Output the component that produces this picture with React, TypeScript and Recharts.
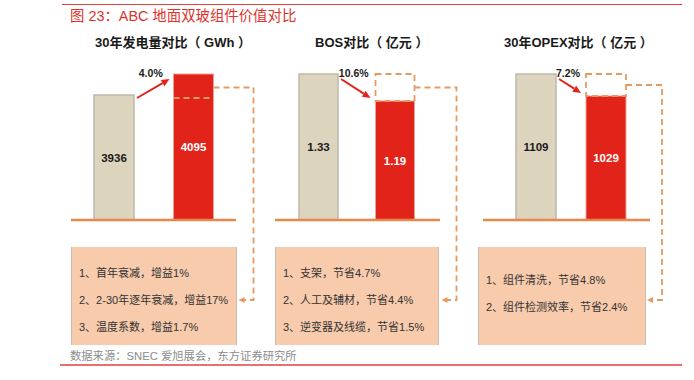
import React from 'react';
import { BarChart, Bar, XAxis, YAxis, LabelList, Cell } from 'recharts';

// ---- data ----
const schemes = ['常规组件', 'ABC组件'];
const energyValues = [3936, 4095];
const bosValues = [1.33, 1.19];
const opexValues = [1109, 1029];
const changeLabels = ['4.0%', '10.6%', '7.2%'];
const panelTitles = ['30年发电量对比（ GWh ）', 'BOS对比（ 亿元 ）', '30年OPEX对比（ 亿元 ）'];
const energyNotes = ['1、首年衰减，增益1%', '2、2-30年逐年衰减，增益17%', '3、温度系数，增益1.7%'];
const bosNotes = ['1、支架，节省4.7%', '2、人工及辅材，节省4.4%', '3、逆变器及线缆，节省1.5%'];
const opexNotes = ['1、组件清洗，节省4.8%', '2、组件检测效率，节省2.4%'];
const yDomains: [number, number][] = [[2990, 4095], [0.573, 1.33], [578, 1109]];

const titleText = '图 23：ABC 地面双玻组件价值对比';
const sourceText = '数据来源：SNEC 爱旭展会，东方证券研究所';

// ---- style / layout ----
const W = 694;
const H = 380;
const FONT = '"Liberation Sans", Arial, "Noto Sans CJK SC", sans-serif';
const RED = '#E2231A';
const BEIGE = '#DDD4BD';
const AXIS_COLOR = '#E5894D';
const DASH = '#E69A62';
const BOX_FILL = '#F8CBAD';
const PLOT_TOP = 74;
const PLOT_BOTTOM = 220;
const ARROW_Y = 300;

const panels = [
  { values: energyValues, notes: energyNotes, plotL: 71, plotR: 236, padL: 3, padR: 3, barSize: 40, boxL: 71, boxR: 237, boxPadTop: 12.5, titleL: 95, conn: 40 },
  { values: bosValues, notes: bosNotes, plotL: 275, plotR: 440, padL: 5, padR: 7, barSize: 39, boxL: 275, boxR: 439, boxPadTop: 12.5, titleL: 315, conn: 42 },
  { values: opexValues, notes: opexNotes, plotL: 483, plotR: 650, padL: 18, padR: 9, barSize: 40, boxL: 478, boxR: 646, boxPadTop: 19.5, titleL: 504, conn: 36 },
];

const geo: Record<number, { x: number; y: number; w: number; h: number }> = {};

function makeShape(pi: number) {
  return (props: any) => {
    const { x, y, width, height, index } = props;
    if (index === 0) {
      geo[pi] = { x, y, w: width, h: height };
      return (
        <rect x={x} y={y} width={width} height={height} fill={BEIGE} stroke="#BDB8AF" strokeWidth={1.5} />
      );
    }
    const b1 = geo[pi] || { x: x - 80, y, w: width, h: height };
    const increase = y < b1.y;
    const topY = Math.min(y, b1.y);
    const lowY = Math.max(y, b1.y);
    const right = x + width;
    const cx = right + panels[pi].conn;
    const midY = (topY + lowY) / 2;
    const boxEdge = cx - 16;
    // red arrow
    const sx = b1.x + b1.w + 3;
    const sy = b1.y + (increase ? 3 : 5);
    const ex = x - (increase ? 4 : 5);
    const ey = increase ? y + 5 : y - 3;
    const ang = Math.atan2(ey - sy, ex - sx);
    const len = 8;
    const hw = 3.6;
    const bx = ex - len * Math.cos(ang);
    const by = ey - len * Math.sin(ang);
    const p1 = `${ex},${ey}`;
    const p2 = `${bx + hw * Math.sin(ang)},${by - hw * Math.cos(ang)}`;
    const p3 = `${bx - hw * Math.sin(ang)},${by + hw * Math.cos(ang)}`;
    const labelX = (b1.x + b1.w + x) / 2 - 3;
    return (
      <g>
        <rect x={x} y={y} width={width} height={height} fill={RED} stroke="#E9A39A" strokeWidth={1} />
        {increase ? (
          <line x1={x} x2={right} y1={b1.y + 3} y2={b1.y + 3} stroke={DASH} strokeWidth={1.8} strokeDasharray="6 4" />
        ) : (
          <rect x={x} y={b1.y} width={width} height={y - b1.y} fill="none" stroke={DASH} strokeWidth={1.8} strokeDasharray="6 4" />
        )}
        <polyline
          points={`${right},${midY + (increase ? 3 : 0)} ${cx},${midY + (increase ? 3 : 0)} ${cx},${ARROW_Y} ${boxEdge + 6},${ARROW_Y}`}
          fill="none"
          stroke={DASH}
          strokeWidth={1.8}
          strokeDasharray="6 4"
        />
        <polygon points={`${boxEdge + 1},${ARROW_Y} ${boxEdge + 7},${ARROW_Y - 3} ${boxEdge + 7},${ARROW_Y + 3}`} fill={DASH} />
        <line x1={sx} y1={sy} x2={bx} y2={by} stroke={RED} strokeWidth={2} />
        <polygon points={`${p1} ${p2} ${p3}`} fill={RED} />
        <text x={labelX} y={topY + 3} textAnchor="middle" fontSize={10.5} fontWeight="bold" fill="#1a1a1a" fontFamily={FONT}>
          {changeLabels[pi]}
        </text>
      </g>
    );
  };
}

const renderValue = (props: any) => {
  const { x, y, width, height, value, index } = props;
  return (
    <text
      x={x + width / 2}
      y={y + height / 2}
      textAnchor="middle"
      dominantBaseline="central"
      fontSize={11.5}
      fontWeight="bold"
      fontFamily={FONT}
      fill={index === 0 ? '#1a1a1a' : '#ffffff'}
    >
      {value}
    </text>
  );
};

function Panel({ pi }: { pi: number }) {
  const p = panels[pi];
  const data = schemes.map((name, i) => ({ name, value: p.values[i] }));
  return (
    <div style={{ position: 'absolute', left: 0, top: 0, width: W, height: H }}>
      <BarChart
        width={W}
        height={H}
        data={data}
        margin={{ top: PLOT_TOP, bottom: H - PLOT_BOTTOM - 1, left: p.plotL, right: W - p.plotR }}
      >
        <XAxis
          dataKey="name"
          tick={false}
          tickLine={false}
          height={1}
          padding={{ left: p.padL, right: p.padR }}
          axisLine={{ stroke: AXIS_COLOR, strokeWidth: 2.5 }}
        />
        <YAxis hide domain={yDomains[pi]} />
        <Bar dataKey="value" barSize={p.barSize} isAnimationActive={false} shape={makeShape(pi)}>
          {data.map((d, i) => (
            <Cell key={i} fill={i === 0 ? BEIGE : RED} />
          ))}
          <LabelList dataKey="value" content={renderValue} />
        </Bar>
      </BarChart>
    </div>
  );
}

export default function App() {
  return (
    <div style={{ position: 'absolute', left: 0, top: 0, width: W, height: H, background: '#fff', fontFamily: FONT, overflow: 'hidden' }}>
      <div style={{ position: 'absolute', left: 62, top: 4, width: 620, height: 1, background: '#E8413B' }} />
      <div style={{ position: 'absolute', left: 70, top: 7, fontSize: 14.4, lineHeight: '18px', color: '#E0312B', whiteSpace: 'nowrap' }}>
        {titleText}
      </div>
      {panels.map((p, i) => (
        <div
          key={'t' + i}
          style={{ position: 'absolute', left: p.titleL, top: 35, fontSize: 13, lineHeight: '16px', fontWeight: 'bold', color: '#1a1a1a', whiteSpace: 'pre' }}
        >
          {panelTitles[i]}
        </div>
      ))}
      {panels.map((p, i) => (
        <div
          key={'b' + i}
          style={{
            position: 'absolute',
            left: p.boxL,
            top: 247,
            width: p.boxR - p.boxL,
            height: 98,
            boxSizing: 'border-box',
            background: BOX_FILL,
            borderLeft: '1px solid #C9BDB3',
            borderRight: '1px solid #C9BDB3',
            paddingTop: p.boxPadTop,
            paddingLeft: 7,
            fontSize: 11,
            lineHeight: '27px',
            color: '#333',
            whiteSpace: 'nowrap',
          }}
        >
          {p.notes.map((n, j) => (
            <div key={j}>{n}</div>
          ))}
        </div>
      ))}
      {panels.map((p, i) => (
        <Panel key={'p' + i} pi={i} />
      ))}
      <div style={{ position: 'absolute', left: 70, top: 349, fontSize: 11.3, lineHeight: '14px', color: '#8C8C8C', whiteSpace: 'nowrap' }}>
        {sourceText}
      </div>
      <div style={{ position: 'absolute', left: 60, top: 364, width: 622, height: 1.5, background: '#E87070' }} />
    </div>
  );
}
